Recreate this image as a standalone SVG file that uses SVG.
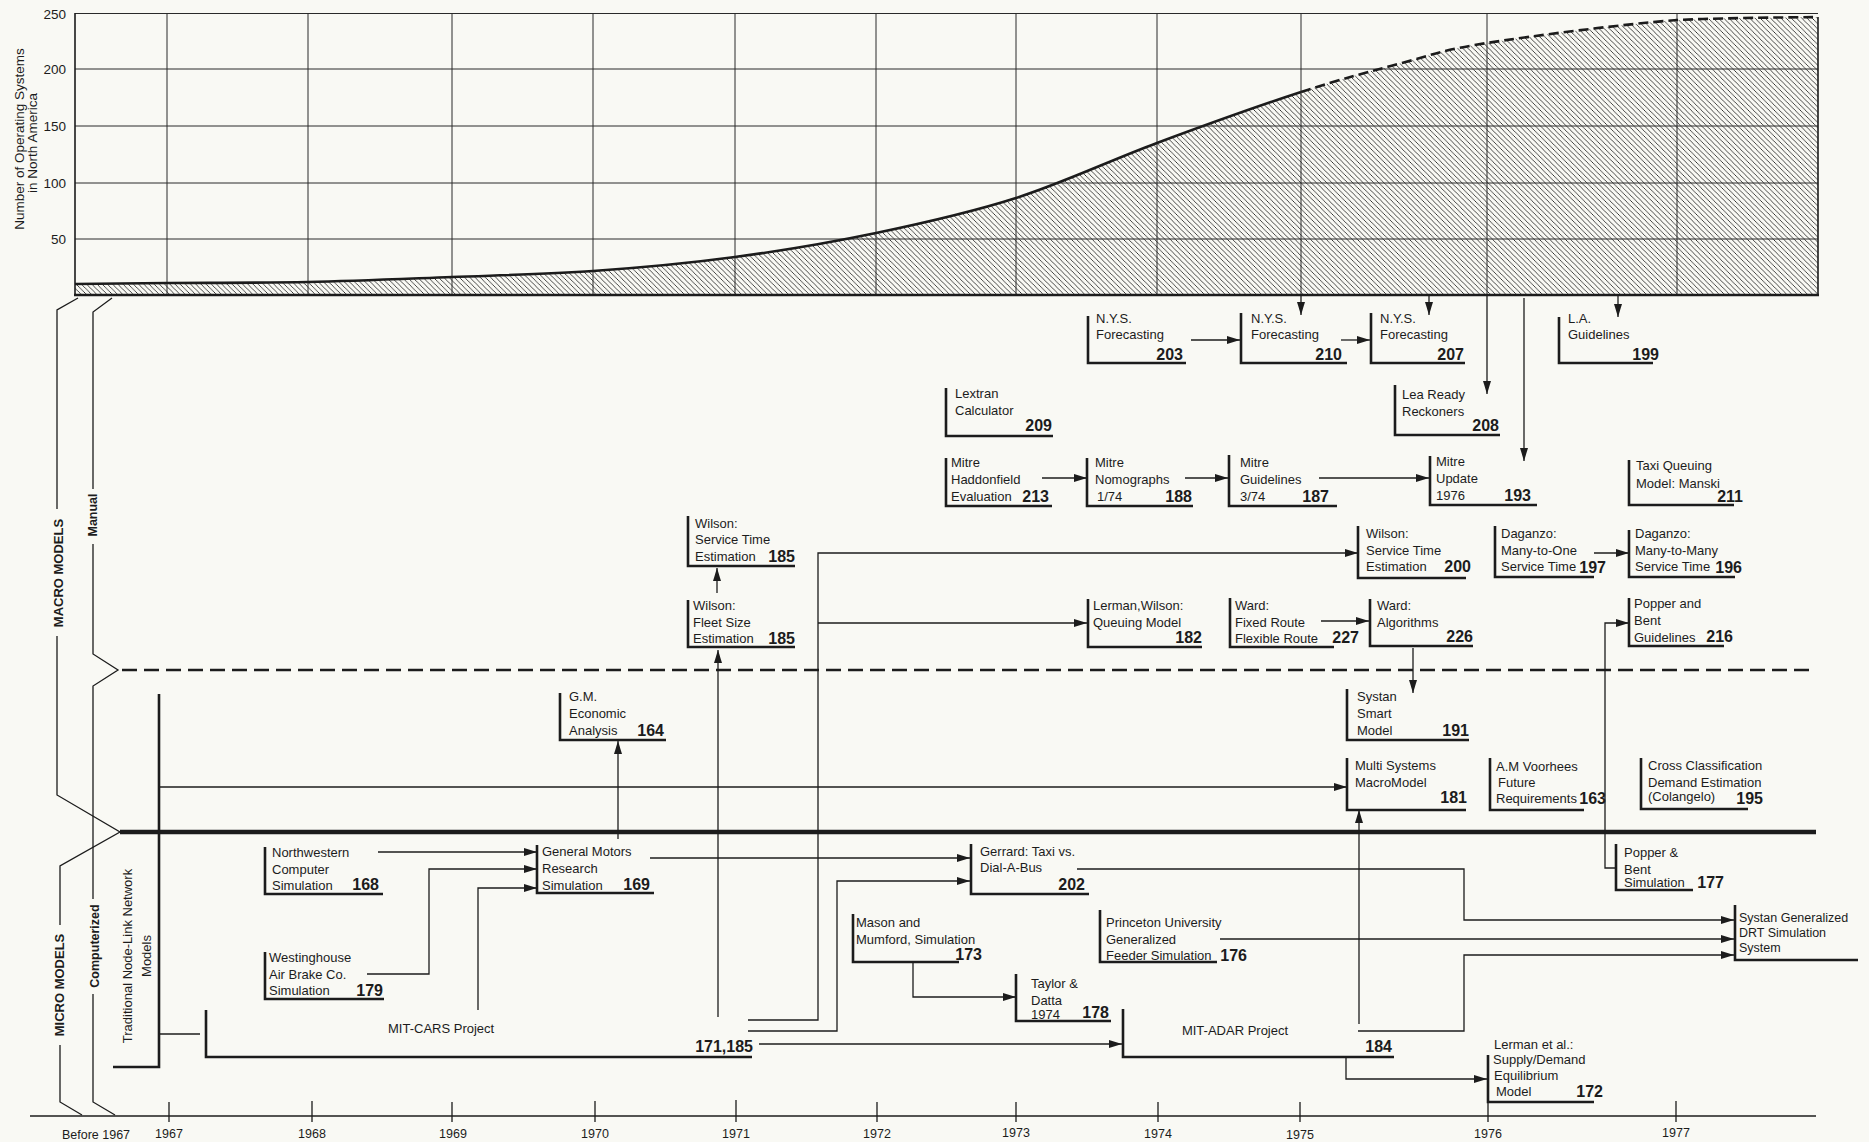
<svg xmlns="http://www.w3.org/2000/svg" width="1869" height="1142" viewBox="0 0 1869 1142">
<defs>
<style>
.bar{fill:none;stroke:#1c1c1c;stroke-width:2.6}
.ln{fill:none;stroke:#1c1c1c;stroke-width:1.3}
.grid{fill:none;stroke:#2a2a2a;stroke-width:1}
.t{font-family:"Liberation Sans",Arial,sans-serif;font-size:13px;fill:#1c1c1c}
.n{font-family:"Liberation Sans",Arial,sans-serif;font-size:16px;font-weight:bold;fill:#1c1c1c;text-anchor:end}
.ax{font-family:"Liberation Sans",Arial,sans-serif;font-size:13.5px;fill:#1c1c1c;text-anchor:end}
.yr{font-family:"Liberation Sans",Arial,sans-serif;font-size:12.5px;fill:#1c1c1c;text-anchor:middle}
.lab{font-family:"Liberation Sans",Arial,sans-serif;font-size:13px;font-weight:bold;fill:#1c1c1c;text-anchor:middle}
.arr{marker-end:url(#ah)}
</style>
<marker id="ah" markerUnits="userSpaceOnUse" markerWidth="13" markerHeight="8" refX="13" refY="4" orient="auto"><path d="M0,0 L13,4 L0,8 Z" fill="#1c1c1c"/></marker>
<pattern id="hatch" patternUnits="userSpaceOnUse" width="5.2" height="5.2"><path d="M-1,-1 L6.2,6.2 M4.2,-1 L6.2,1 M-1,4.2 L1,6.2" stroke="#2a2a2a" stroke-width="0.85"/></pattern>
</defs>
<rect width="1869" height="1142" fill="#f9f9f4"/>

<g id="chart">
<path d="M75,295 L75,284 C90,284 128,283.3 167,283 C206,282.7 260.5,283 308,282 C355.5,281 404.5,278.8 452,277 C499.5,275.2 545.8,274.3 593,271 C640.2,267.7 687.8,263.3 735,257 C782.2,250.7 829.2,242.8 876,233 C922.8,223.2 969.2,213 1016,198 C1062.8,183 1109.5,160.7 1157,143 C1204.5,125.3 1260.2,105.3 1301,92 C1341.8,78.7 1371,71.2 1402,63 C1433,54.8 1441.2,50.2 1487,43 C1532.8,35.8 1621.8,24.3 1677,20 C1732.2,17.5 1794.5,17.5 1818,17 L1818,295 Z" fill="url(#hatch)"/>
<path class="grid" d="M75,13.5 H1818 M75,69 H1818 M75,126 H1818 M75,183 H1818 M75,239 H1818 M167,13.5 V295 M308,13.5 V295 M452,13.5 V295 M593,13.5 V295 M735,13.5 V295 M876,13.5 V295 M1016,13.5 V295 M1157,13.5 V295 M1301,13.5 V295 M1487,13.5 V295 M1677,13.5 V295"/>
<path d="M75,13 V295 M1818,17 V295" fill="none" stroke="#1c1c1c" stroke-width="1.6"/>
<path d="M74,295 H1819" fill="none" stroke="#1c1c1c" stroke-width="2.4"/>
<path d="M75,284 C90,284 128,283.3 167,283 C206,282.7 260.5,283 308,282 C355.5,281 404.5,278.8 452,277 C499.5,275.2 545.8,274.3 593,271 C640.2,267.7 687.8,263.3 735,257 C782.2,250.7 829.2,242.8 876,233 C922.8,223.2 969.2,213 1016,198 C1062.8,183 1109.5,160.7 1157,143 C1204.5,125.3 1260.2,105.3 1301,92" fill="none" stroke="#1c1c1c" stroke-width="2.6"/>
<path d="M1301,92 C1341.8,78.7 1371,71.2 1402,63 C1433,54.8 1441.2,50.2 1487,43 C1532.8,35.8 1621.8,24.3 1677,20 C1732.2,17.5 1794.5,17.5 1818,17" fill="none" stroke="#1c1c1c" stroke-width="2.6" stroke-dasharray="10 5"/>
<text class="ax" x="66" y="18.5">250</text>
<text class="ax" x="66" y="74">200</text>
<text class="ax" x="66" y="131">150</text>
<text class="ax" x="66" y="188">100</text>
<text class="ax" x="66" y="244">50</text>
<text class="t" style="font-size:13.5px" text-anchor="middle" transform="translate(24,139) rotate(-90)">Number of Operating Systems</text>
<text class="t" style="font-size:13.5px" text-anchor="middle" transform="translate(37,143) rotate(-90)">in North America</text>
</g>

<g id="axis">
<path d="M30,1116 H1816" fill="none" stroke="#1c1c1c" stroke-width="1.4"/>
<path class="ln" d="M169,1102 V1122 M312,1101 V1122 M452,1102 V1122 M595,1101 V1122 M736,1100 V1122 M877,1102 V1122 M1016,1102 V1122 M1158,1102 V1122 M1300,1102 V1122 M1488,1102 V1122 M1676,1101 V1122"/>
<text class="yr" x="96" y="1139">Before 1967</text>
<text class="yr" x="169" y="1138">1967</text>
<text class="yr" x="312" y="1138">1968</text>
<text class="yr" x="453" y="1138">1969</text>
<text class="yr" x="595" y="1138">1970</text>
<text class="yr" x="736" y="1138">1971</text>
<text class="yr" x="877" y="1138">1972</text>
<text class="yr" x="1016" y="1137">1973</text>
<text class="yr" x="1158" y="1138">1974</text>
<text class="yr" x="1300" y="1139">1975</text>
<text class="yr" x="1488" y="1138">1976</text>
<text class="yr" x="1676" y="1137">1977</text>
</g>

<g id="brackets">
<path class="ln" d="M78,298 L57,310 V509 M57,636 V795 L120,832 L60,866 V925 M60,1045 V1102 L82,1115"/>
<path class="ln" d="M112,298 L93,312 V489 M93,544 V654 L118,670 L93,686 V899 M93,994 V1102 L115,1115"/>
<text class="lab" transform="translate(63,573) rotate(-90)">MACRO MODELS</text>
<text class="lab" transform="translate(64,985) rotate(-90)">MICRO MODELS</text>
<text class="lab" style="font-size:12.5px" transform="translate(97,515) rotate(-90)">Manual</text>
<text class="lab" style="font-size:12.5px" transform="translate(99,946) rotate(-90)">Computerized</text>
<path d="M120,832 H1816" fill="none" stroke="#1c1c1c" stroke-width="4.5"/>
<path d="M122,670 H1814" fill="none" stroke="#1c1c1c" stroke-width="2.5" stroke-dasharray="15 7"/>
</g>

<g id="connectors">
<path class="ln arr" d="M1301,295 V315"/>
<path class="ln arr" d="M1429,295 V315"/>
<path class="ln arr" d="M1618,295 V317"/>
<path class="ln arr" d="M1487,295 V394"/>
<path class="ln arr" d="M1524,298 V461"/>
<path class="ln arr" d="M1191,340 H1240"/>
<path class="ln arr" d="M1341,340 H1370"/>
<path class="ln arr" d="M1042,478 H1087"/>
<path class="ln arr" d="M1185,478 H1228"/>
<path class="ln arr" d="M1319,478 H1429"/>
<path class="ln arr" d="M717,593 V568"/>
<path class="ln arr" d="M1594,553 H1629"/>
<path class="ln arr" d="M1321,621 H1369"/>
<path class="ln arr" d="M1413,648 V693"/>
<path class="ln arr" d="M1616,868 H1605 V623 H1629"/>
<path class="ln arr" d="M718,1017 V650"/>
<path class="ln arr" d="M618,839 V741"/>
<path class="ln arr" d="M748,1020 H818 V553 H1358"/>
<path class="ln arr" d="M818,623 H1087"/>
<path class="ln arr" d="M748,1031 H837 V881 H970"/>
<path class="ln arr" d="M759,1044 H1122"/>
<path class="ln arr" d="M159,787 H1347"/>
<path class="ln" d="M159,1034 H200"/>
<path class="ln arr" d="M378,852 H537"/>
<path class="ln arr" d="M367,974 H429 V869 H537"/>
<path class="ln arr" d="M478,1010 V888 H537"/>
<path class="ln arr" d="M650,858 H970"/>
<path class="ln arr" d="M913,962 V997 H1016"/>
<path class="ln arr" d="M1077,869 H1464 V920 H1734"/>
<path class="ln arr" d="M1220,939 H1734"/>
<path class="ln arr" d="M1359,1024 V810"/>
<path class="ln arr" d="M1358,1031 H1464 V955 H1734"/>
<path class="ln arr" d="M1346,1057 V1079 H1487"/>
</g>

<g id="n203"><path class="bar" d="M1088,316 V363 H1186"/><text class="t" x="1096" y="323">N.Y.S.</text><text class="t" x="1096" y="339">Forecasting</text><text class="n" x="1183" y="360">203</text></g>
<g id="n210"><path class="bar" d="M1241,313 V363 H1347"/><text class="t" x="1251" y="323">N.Y.S.</text><text class="t" x="1251" y="339">Forecasting</text><text class="n" x="1342" y="360">210</text></g>
<g id="n207"><path class="bar" d="M1371,313 V363 H1465"/><text class="t" x="1380" y="323">N.Y.S.</text><text class="t" x="1380" y="339">Forecasting</text><text class="n" x="1464" y="360">207</text></g>
<g id="n199"><path class="bar" d="M1559,317 V363 H1653"/><text class="t" x="1568" y="323">L.A.</text><text class="t" x="1568" y="339">Guidelines</text><text class="n" x="1659" y="360">199</text></g>
<g id="n209"><path class="bar" d="M946,388 V436 H1053"/><text class="t" x="955" y="398">Lextran</text><text class="t" x="955" y="415">Calculator</text><text class="n" x="1052" y="431">209</text></g>
<g id="n208"><path class="bar" d="M1395,385 V435 H1500"/><text class="t" x="1402" y="399">Lea Ready</text><text class="t" x="1402" y="416">Reckoners</text><text class="n" x="1499" y="431">208</text></g>
<g id="n213"><path class="bar" d="M946,458 V506 H1052"/><text class="t" x="951" y="467">Mitre</text><text class="t" x="951" y="484">Haddonfield</text><text class="t" x="951" y="501">Evaluation</text><text class="n" x="1049" y="502">213</text></g>
<g id="n188"><path class="bar" d="M1087,458 V506 H1193"/><text class="t" x="1095" y="467">Mitre</text><text class="t" x="1095" y="484">Nomographs</text><text class="t" x="1097" y="501">1/74</text><text class="n" x="1192" y="502">188</text></g>
<g id="n187"><path class="bar" d="M1229,455 V506 H1337"/><text class="t" x="1240" y="467">Mitre</text><text class="t" x="1240" y="484">Guidelines</text><text class="t" x="1240" y="501">3/74</text><text class="n" x="1329" y="502">187</text></g>
<g id="n193"><path class="bar" d="M1430,456 V505 H1537"/><text class="t" x="1436" y="466">Mitre</text><text class="t" x="1436" y="483">Update</text><text class="t" x="1436" y="500">1976</text><text class="n" x="1531" y="501">193</text></g>
<g id="n211"><path class="bar" d="M1629,460 V505 H1734"/><text class="t" x="1636" y="470">Taxi Queuing</text><text class="t" x="1636" y="488">Model: Manski</text><text class="n" x="1743" y="502">211</text></g>
<g id="n185b"><path class="bar" d="M688,516 V566 H795"/><text class="t" x="695" y="528">Wilson:</text><text class="t" x="695" y="544">Service Time</text><text class="t" x="695" y="561">Estimation</text><text class="n" x="795" y="562">185</text></g>
<g id="n200"><path class="bar" d="M1358,526 V578 H1466"/><text class="t" x="1366" y="538">Wilson:</text><text class="t" x="1366" y="555">Service Time</text><text class="t" x="1366" y="571">Estimation</text><text class="n" x="1471" y="572">200</text></g>
<g id="n197"><path class="bar" d="M1495,526 V577 H1594"/><text class="t" x="1501" y="538">Daganzo:</text><text class="t" x="1501" y="555">Many-to-One</text><text class="t" x="1501" y="571">Service Time</text><text class="n" x="1606" y="573">197</text></g>
<g id="n196"><path class="bar" d="M1629,530 V577 H1735"/><text class="t" x="1635" y="538">Daganzo:</text><text class="t" x="1635" y="555">Many-to-Many</text><text class="t" x="1635" y="571">Service Time</text><text class="n" x="1742" y="573">196</text></g>
<g id="n185a"><path class="bar" d="M688,600 V647 H795"/><text class="t" x="693" y="610">Wilson:</text><text class="t" x="693" y="627">Fleet Size</text><text class="t" x="693" y="643">Estimation</text><text class="n" x="795" y="644">185</text></g>
<g id="n182"><path class="bar" d="M1088,599 V647 H1202"/><text class="t" x="1093" y="610">Lerman,Wilson:</text><text class="t" x="1093" y="627">Queuing Model</text><text class="n" x="1202" y="643">182</text></g>
<g id="n227"><path class="bar" d="M1230,598 V647 H1334"/><text class="t" x="1235" y="610">Ward:</text><text class="t" x="1235" y="627">Fixed Route</text><text class="t" x="1235" y="643">Flexible Route</text><text class="n" x="1359" y="643">227</text></g>
<g id="n226"><path class="bar" d="M1370,599 V646 H1473"/><text class="t" x="1377" y="610">Ward:</text><text class="t" x="1377" y="627">Algorithms</text><text class="n" x="1473" y="642">226</text></g>
<g id="n216"><path class="bar" d="M1629,598 V646 H1724"/><text class="t" x="1634" y="608">Popper and</text><text class="t" x="1634" y="625">Bent</text><text class="t" x="1634" y="642">Guidelines</text><text class="n" x="1733" y="642">216</text></g>
<g id="n164"><path class="bar" d="M560,693 V740 H666"/><text class="t" x="569" y="701">G.M.</text><text class="t" x="569" y="718">Economic</text><text class="t" x="569" y="735">Analysis</text><text class="n" x="664" y="736">164</text></g>
<g id="n191"><path class="bar" d="M1347,689 V740 H1469"/><text class="t" x="1357" y="701">Systan</text><text class="t" x="1357" y="718">Smart</text><text class="t" x="1357" y="735">Model</text><text class="n" x="1469" y="736">191</text></g>
<g id="n181"><path class="bar" d="M1347,758 V810 H1466"/><text class="t" x="1355" y="770">Multi Systems</text><text class="t" x="1355" y="787">MacroModel</text><text class="n" x="1467" y="803">181</text></g>
<g id="n163"><path class="bar" d="M1490,758 V810 H1584"/><text class="t" x="1496" y="771">A.M Voorhees</text><text class="t" x="1498" y="787">Future</text><text class="t" x="1496" y="803">Requirements</text><text class="n" x="1606" y="804">163</text></g>
<g id="n195"><path class="bar" d="M1641,758 V809 H1748"/><text class="t" x="1648" y="770">Cross Classification</text><text class="t" x="1648" y="787">Demand Estimation</text><text class="t" x="1648" y="801">(Colangelo)</text><text class="n" x="1763" y="804">195</text></g>
<g id="n168"><path class="bar" d="M265,847 V894 H383"/><text class="t" x="272" y="857">Northwestern</text><text class="t" x="272" y="874">Computer</text><text class="t" x="272" y="890">Simulation</text><text class="n" x="379" y="890">168</text></g>
<g id="n169"><path class="bar" d="M537,845 V893 H654"/><text class="t" x="542" y="856">General Motors</text><text class="t" x="542" y="873">Research</text><text class="t" x="542" y="890">Simulation</text><text class="n" x="650" y="890">169</text></g>
<g id="n202"><path class="bar" d="M971,844 V894 H1089"/><text class="t" x="980" y="856">Gerrard: Taxi vs.</text><text class="t" x="980" y="872">Dial-A-Bus</text><text class="n" x="1085" y="890">202</text></g>
<g id="n177"><path class="bar" d="M1616,844 V890 H1693"/><text class="t" x="1624" y="857">Popper &amp;</text><text class="t" x="1624" y="874">Bent</text><text class="t" x="1624" y="887">Simulation</text><text class="n" x="1724" y="888">177</text></g>
<g id="n179"><path class="bar" d="M265,952 V999 H384"/><text class="t" x="269" y="962">Westinghouse</text><text class="t" x="269" y="979">Air Brake Co.</text><text class="t" x="269" y="995">Simulation</text><text class="n" x="383" y="996">179</text></g>
<g id="n173"><path class="bar" d="M853,914 V962 H959"/><text class="t" x="856" y="927">Mason and</text><text class="t" x="856" y="944">Mumford, Simulation</text><text class="n" x="982" y="960">173</text></g>
<g id="n176"><path class="bar" d="M1100,910 V962 H1217"/><text class="t" x="1106" y="927">Princeton University</text><text class="t" x="1106" y="944">Generalized</text><text class="t" x="1106" y="960">Feeder Simulation</text><text class="n" x="1247" y="961">176</text></g>
<g id="n178"><path class="bar" d="M1016,974 V1021 H1111"/><text class="t" x="1031" y="988">Taylor &amp;</text><text class="t" x="1031" y="1005">Datta</text><text class="t" x="1031" y="1019">1974</text><text class="n" x="1109" y="1018">178</text></g>
<g id="n184"><path class="bar" d="M1123,1009 V1057 H1394"/><text class="t" x="1235" y="1035" text-anchor="middle">MIT-ADAR Project</text><text class="n" x="1392" y="1052">184</text></g>
<g id="n171"><path class="bar" d="M206,1010 V1057 H752"/><text class="t" x="388" y="1033">MIT-CARS Project</text><text class="n" x="753" y="1052">171,185</text></g>
<g id="ntrad"><path class="bar" d="M159,694 V1067 H113"/><text class="t" text-anchor="middle" transform="translate(132,956) rotate(-90)">Traditional Node-Link Network</text><text class="t" text-anchor="middle" transform="translate(151,956) rotate(-90)">Models</text></g>
<g id="n172"><path class="bar" d="M1488,1055 V1102 H1594"/><text class="t" x="1494" y="1049">Lerman et al.:</text><text class="t" x="1493" y="1064">Supply/Demand</text><text class="t" x="1494" y="1080">Equilibrium</text><text class="t" x="1496" y="1096">Model</text><text class="n" x="1603" y="1097">172</text></g>
<g id="nsystan"><path class="bar" d="M1735,905 V960 H1858"/><text class="t" style="font-size:12.5px" x="1739" y="922">Systan Generalized</text><text class="t" style="font-size:12.5px" x="1739" y="937">DRT Simulation</text><text class="t" style="font-size:12.5px" x="1739" y="952">System</text></g>
</svg>
